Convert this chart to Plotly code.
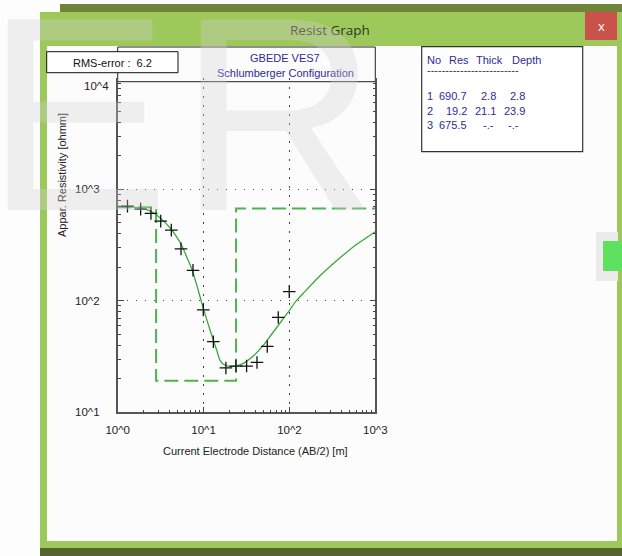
import plotly.graph_objects as go

# ---- field sounding: half electrode spacing AB/2 [m] and apparent resistivity [ohm m]
ab2_obs = [1.3, 1.85, 2.44, 3.17, 4.21, 5.46, 7.53, 9.93, 13.0, 18.2, 23.8, 31.7, 41.9, 55.2, 74.1, 99.5]
rho_obs = [708, 666, 609, 520, 431, 293, 188, 83, 43, 25, 26, 26, 28, 39, 71, 121]

# ---- fitted model response curve
ab2_fit = [1.0, 1.39, 1.90, 2.38, 2.84, 3.40, 4.06, 4.86, 5.56, 6.35, 7.26, 8.32, 9.93, 11.9,
           14.2, 15.5, 16.9, 19.4, 23.2, 29.0, 37.9, 49.5, 59.3, 92.7, 120, 145, 227, 354, 553, 1000]
rho_fit = [708, 698, 676, 643, 589, 522, 453, 376, 316, 249, 195, 139, 85.7, 54.7,
           36.2, 29.4, 27.1, 26.0, 26.0, 27.5, 32.0, 39.8, 47.9, 75.9, 100, 117, 168, 229, 305, 417]

# ---- interpreted layer model
layer_no = [1, 2, 3]
layer_res = [690.7, 19.2, 675.5]
layer_thick = [2.8, 21.1, None]
layer_depth = [2.8, 23.9, None]

rms_error = 6.2
station_name = "GBEDE VES7"
array_name = "Schlumberger Configuration"

x_tickvals = [1, 10, 100, 1000]
x_ticktext = ["10^0", "10^1", "10^2", "10^3"]
y_tickvals = [10, 100, 1000]
y_ticktext = ["10^1", "10^2", "10^3"]
y_top_label = "10^4"

x_range_log = [0, 3]
y_range_log = [1, 4]

W, H = 622, 556
FONT = "Liberation Sans, Arial, sans-serif"
BLUE = "#2c2c96"
GREEN_FRAME = "#9dc85a"


def px(x):
    return x / W


def py(y):
    return 1 - y / H


# stepped layer model drawn from the layer table
step_x = [10 ** x_range_log[0]]
step_y = [layer_res[0]]
for i, d in enumerate(layer_depth):
    if d is None:
        continue
    step_x += [d, d]
    step_y += [layer_res[i], layer_res[i + 1]]
step_x.append(10 ** x_range_log[1])
step_y.append(layer_res[-1])

fig = go.Figure()
fig.add_trace(go.Scatter(
    x=step_x, y=step_y, mode="lines",
    line=dict(color="#4db34d", width=2, dash="14px,6px"),
    hoverinfo="skip", showlegend=False))
fig.add_trace(go.Scatter(
    x=ab2_fit, y=rho_fit, mode="lines",
    line=dict(color="#3aa83a", width=1.3, shape="spline", smoothing=0.6),
    showlegend=False))
fig.add_trace(go.Scatter(
    x=ab2_obs, y=rho_obs, mode="markers",
    marker=dict(symbol="cross-thin", size=9, line=dict(color="#111111", width=1.3)),
    showlegend=False))

minor_x = [m * 10 ** k for k in range(0, 3) for m in range(2, 10)]
minor_y = [m * 10 ** k for k in range(1, 4) for m in range(2, 10)]

fig.update_xaxes(
    type="log", range=x_range_log, domain=[px(117.7), px(375.3)],
    tickvals=x_tickvals, ticktext=x_ticktext,
    ticks="inside", ticklen=6, tickcolor="#444", tickwidth=1,
    minor=dict(tickvals=minor_x, ticks="inside", ticklen=3, tickcolor="#444", showgrid=False),
    showline=True, linecolor="#555", linewidth=1.6, mirror=False,
    showgrid=True, gridcolor="#444", gridwidth=1, griddash="1.5px,7.5px",
    zeroline=False, tickfont=dict(family=FONT, size=11.5, color="#222"),
    ticklabelstandoff=6, anchor="y", automargin=False)
fig.update_yaxes(
    type="log", range=y_range_log, domain=[py(412.3), py(78)],
    tickvals=y_tickvals, ticktext=y_ticktext,
    ticks="inside", ticklen=6, tickcolor="#444", tickwidth=1,
    minor=dict(tickvals=minor_y, ticks="inside", ticklen=3, tickcolor="#444", showgrid=False),
    showline=True, linecolor="#555", linewidth=1.6, mirror="ticks",
    showgrid=True, gridcolor="#444", gridwidth=1, griddash="1.5px,7.5px",
    zeroline=False, tickfont=dict(family=FONT, size=11.5, color="#222"),
    ticklabelstandoff=14, anchor="x", automargin=False)

shapes = []


def rect(x0, y0, x1, y1, fill, line=None, lw=0, layer="below"):
    shapes.append(dict(
        type="rect", xref="paper", yref="paper",
        x0=px(x0), x1=px(x1), y0=py(y1), y1=py(y0),
        fillcolor=fill, line=dict(color=line or fill, width=lw), layer=layer))


# window chrome
rect(60, 4, 622, 12, "#6f8438")
rect(40, 12, 622, 549, GREEN_FRAME)
rect(585, 12, 617, 40, "#c9524a")
rect(47, 46, 617, 541, "#fcfcfc")
rect(40, 548, 622, 556, "#56652f")
# header, rms and layer table boxes
rect(117.7, 47, 375.3, 81.7, "rgba(0,0,0,0)", "#222", 1)
rect(46.7, 51.7, 178, 72.7, "#ffffff", "#111", 1)
rect(421.7, 46.7, 582.7, 151.7, "#ffffff", "#333", 1.2)
# side button
rect(596, 232, 618, 281, "#ebebeb")
rect(603, 241, 622, 271, "#5fe15f")

annotations = []


def text(x, y, s, size=11, color="#222", xanchor="center", family=FONT, angle=0, yref="paper", yshift=0):
    annotations.append(dict(
        x=px(x), y=py(y) if yref == "paper" else y, xref="paper", yref=yref,
        text=s, showarrow=False, xanchor=xanchor, yanchor="middle",
        textangle=angle, yshift=yshift,
        font=dict(family=family, size=size, color=color)))


text(330, 30, "Resist Graph", size=13.5, color="#333", family="Open Sans, sans-serif")
text(601, 26, "x", size=13, color="#ffffff", family="Open Sans, sans-serif")
text(112.5, 63.5, f"RMS-error :  {rms_error}", size=11, color="#111")
text(285, 57.5, station_name, size=11, color=BLUE)
text(285, 73.5, array_name, size=11, color=BLUE)
text(96, 0, y_top_label, size=11.5, color="#222", yref="y", yshift=-8)
annotations[-1]["y"] = y_range_log[1]
text(62, 175, "Appar. Resistivity [ohmm]", size=11, color="#222", angle=-90)
text(255, 451, "Current Electrode Distance (AB/2) [m]", size=11, color="#222")

# layer table
text(425, 60.5, "No", color=BLUE, xanchor="left")
text(471, 60.5, "Res", color=BLUE, xanchor="right")
text(505, 60.5, "Thick", color=BLUE, xanchor="right")
text(543, 60.5, "Depth", color=BLUE, xanchor="right")
text(425, 70, "-" * 25, color=BLUE, xanchor="left")
row_y = [96, 110.7, 125.3]
for n, r, t, d, yy in zip(layer_no, layer_res, layer_thick, layer_depth, row_y):
    text(430, yy, str(n), color=BLUE)
    text(469.5, yy, f"{r:.1f}", color=BLUE, xanchor="right")
    if t is None:
        text(488.5, yy, "-.-", color=BLUE)
    else:
        text(498, yy, f"{t:.1f}", color=BLUE, xanchor="right")
    if d is None:
        text(513.5, yy, "-.-", color=BLUE)
    else:
        text(527, yy, f"{d:.1f}", color=BLUE, xanchor="right")

# translucent lettering over the window
for letter, x0 in (("E", -17), ("R", 176)):
    annotations.append(dict(
        x=px(x0), y=py(114), xref="paper", yref="paper", text=letter,
        showarrow=False, xanchor="left", yanchor="middle",
        font=dict(family=FONT, size=277, color="rgba(210,210,210,0.33)")))

fig.update_layout(
    width=W, height=H, margin=dict(l=0, r=0, t=0, b=0, pad=0, autoexpand=False),
    paper_bgcolor="#fdfdfd", plot_bgcolor="rgba(0,0,0,0)",
    shapes=shapes, annotations=annotations, showlegend=False,
    font=dict(family=FONT))

# page without body margin so the figure fills the window exactly
fig.write_html(
    "out.html",
    post_script="document.body.style.margin='0';"
                "document.documentElement.style.overflow='hidden';")
